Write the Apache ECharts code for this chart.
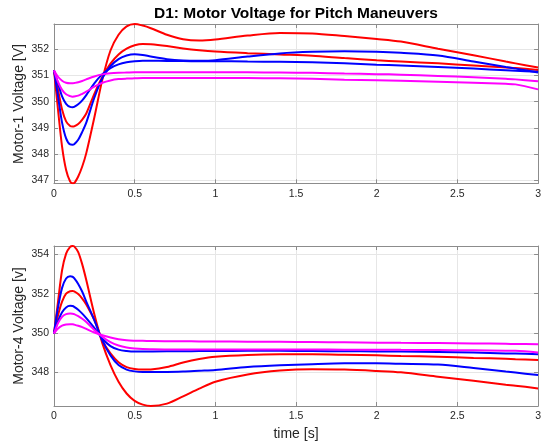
<!DOCTYPE html>
<html>
<head>
<meta charset="utf-8">
<script src="https://cdn.jsdelivr.net/npm/echarts@6/dist/echarts.min.js"></script>
<style>
html,body{margin:0;padding:0;background:#fff;}
#chart{width:544px;height:448px;}
</style>
</head>
<body>
<div id="chart"></div>
<script>
// time samples [s]
const time = [0, 0.025, 0.05, 0.075, 0.1, 0.115, 0.125, 0.15, 0.175, 0.2, 0.25, 0.3, 0.35, 0.4, 0.45, 0.5, 0.55, 0.6, 0.7, 0.8, 0.9, 1.0, 1.2, 1.4, 1.6, 1.8, 2.0, 2.15, 2.38, 2.6, 2.8, 2.86, 3.0];

// Motor-1 voltage [V]
const m1RedA = [351.19, 349.69, 348.29, 347.40, 346.96, 346.89, 346.90, 347.15, 347.53, 348.04, 349.40, 350.85, 351.95, 352.55, 352.87, 352.96, 352.90, 352.80, 352.55, 352.38, 352.33, 352.37, 352.52, 352.62, 352.60, 352.50, 352.39, 352.29, 352.02, 351.77, 351.53, 351.46, 351.30];
const m1RedB = [351.19, 350.45, 349.70, 349.25, 349.07, 349.05, 349.06, 349.15, 349.32, 349.55, 350.30, 350.95, 351.45, 351.80, 352.02, 352.15, 352.20, 352.19, 352.12, 352.03, 351.96, 351.91, 351.85, 351.80, 351.75, 351.66, 351.58, 351.53, 351.46, 351.38, 351.30, 351.28, 351.21];
const m1BlueA = [351.19, 350.20, 349.20, 348.60, 348.37, 348.36, 348.38, 348.55, 348.85, 349.20, 350.15, 350.90, 351.35, 351.62, 351.76, 351.81, 351.78, 351.72, 351.62, 351.57, 351.56, 351.58, 351.72, 351.84, 351.90, 351.92, 351.90, 351.86, 351.76, 351.53, 351.32, 351.26, 351.11];
const m1BlueB = [351.19, 350.70, 350.20, 349.92, 349.80, 349.79, 349.80, 349.90, 350.05, 350.25, 350.70, 351.05, 351.28, 351.42, 351.50, 351.54, 351.56, 351.56, 351.55, 351.55, 351.54, 351.54, 351.53, 351.52, 351.50, 351.46, 351.41, 351.38, 351.32, 351.26, 351.20, 351.18, 351.14];
const m1MagA = [351.19, 350.95, 350.80, 350.72, 350.70, 350.70, 350.71, 350.74, 350.79, 350.85, 350.96, 351.04, 351.08, 351.10, 351.11, 351.12, 351.12, 351.12, 351.12, 351.12, 351.12, 351.12, 351.12, 351.11, 351.10, 351.07, 351.05, 351.03, 350.98, 350.93, 350.87, 350.85, 350.78];
const m1MagB = [351.19, 350.75, 350.45, 350.28, 350.21, 350.19, 350.20, 350.23, 350.30, 350.38, 350.57, 350.72, 350.81, 350.86, 350.88, 350.89, 350.90, 350.90, 350.90, 350.90, 350.90, 350.90, 350.90, 350.89, 350.87, 350.84, 350.82, 350.80, 350.76, 350.72, 350.68, 350.66, 350.47];

// Motor-4 voltage [v]
const m4RedA = [349.97, 351.60, 353.20, 354.05, 354.40, 354.44, 354.42, 354.13, 353.50, 352.70, 350.95, 349.46, 348.35, 347.50, 346.90, 346.52, 346.33, 346.26, 346.38, 346.75, 347.15, 347.50, 347.87, 348.07, 348.14, 348.12, 348.05, 347.98, 347.76, 347.55, 347.35, 347.30, 347.16];
const m4RedB = [349.97, 350.90, 351.60, 352.00, 352.13, 352.14, 352.12, 351.98, 351.75, 351.45, 350.65, 349.60, 348.95, 348.50, 348.25, 348.15, 348.12, 348.13, 348.25, 348.48, 348.66, 348.78, 348.87, 348.90, 348.90, 348.88, 348.85, 348.82, 348.78, 348.72, 348.67, 348.65, 348.61];
const m4BlueA = [349.97, 351.30, 352.30, 352.78, 352.89, 352.87, 352.80, 352.50, 352.10, 351.60, 350.65, 349.60, 348.85, 348.35, 348.12, 348.03, 348.00, 348.00, 348.00, 348.02, 348.06, 348.10, 348.25, 348.34, 348.40, 348.44, 348.44, 348.42, 348.38, 348.20, 348.02, 347.97, 347.84];
const m4BlueB = [349.97, 350.60, 351.05, 351.30, 351.38, 351.37, 351.33, 351.18, 350.98, 350.75, 350.25, 349.70, 349.32, 349.14, 349.07, 349.04, 349.04, 349.05, 349.06, 349.06, 349.07, 349.07, 349.08, 349.08, 349.07, 349.06, 349.05, 349.04, 349.02, 348.99, 348.95, 348.94, 348.91];
const m4MagA = [349.97, 350.50, 350.82, 350.96, 350.99, 350.98, 350.96, 350.85, 350.72, 350.55, 350.15, 349.80, 349.52, 349.35, 349.25, 349.20, 349.17, 349.16, 349.15, 349.15, 349.15, 349.15, 349.15, 349.15, 349.15, 349.14, 349.14, 349.13, 349.12, 349.11, 349.09, 349.08, 349.00];
const m4MagB = [349.97, 350.22, 350.37, 350.43, 350.44, 350.44, 350.42, 350.36, 350.29, 350.20, 350.02, 349.88, 349.76, 349.67, 349.62, 349.60, 349.59, 349.58, 349.57, 349.57, 349.56, 349.56, 349.55, 349.54, 349.53, 349.52, 349.50, 349.49, 349.48, 349.46, 349.44, 349.43, 349.42];

const titleText = 'D1: Motor Voltage for Pitch Maneuvers';
const yLabelTop = 'Motor-1 Voltage [V]';
const yLabelBottom = 'Motor-4 Voltage [v]';
const xLabel = 'time [s]';

const FONT = '"Liberation Sans", Arial, Helvetica, sans-serif';
const BOX = '#8c8c8c';
const GRIDC = '#e6e6e6';
const TXT = '#262626';

const chart = echarts.init(document.getElementById('chart'), null, {renderer: 'canvas'});

function xAx(gi, pos, labels) {
  return {
    type: 'value', gridIndex: gi, position: pos, min: 0, max: 3, interval: 0.5,
    axisLine: {show: true, onZero: false, lineStyle: {color: BOX, width: 1}},
    axisTick: {show: true, inside: true, length: 4, lineStyle: {color: BOX}},
    axisLabel: {show: labels, color: TXT, fontSize: 10.5, fontFamily: FONT, margin: 5},
    splitLine: {show: labels, lineStyle: {color: GRIDC, width: 1}}
  };
}
function yAx(gi, pos, labels, mn, mx) {
  return {
    type: 'value', gridIndex: gi, position: pos, min: mn, max: mx,
    axisLine: {show: true, onZero: false, lineStyle: {color: BOX, width: 1}},
    axisTick: {show: true, inside: true, length: 4, lineStyle: {color: BOX}},
    axisLabel: {show: labels, color: TXT, fontSize: 10.5, fontFamily: FONT, margin: 5,
      showMinLabel: false, showMaxLabel: false,
      formatter: v => (Math.abs(v - Math.round(v)) < 1e-6 ? String(Math.round(v)) : '')},
    splitLine: {show: labels, lineStyle: {color: GRIDC, width: 1}}
  };
}

function ser(name, arr, color, xi, yi) {
  return {
    name, type: 'line', xAxisIndex: xi, yAxisIndex: yi,
    data: time.map((t, i) => [t, arr[i]]),
    showSymbol: false, smooth: 0.3, clip: true,
    lineStyle: {color, width: 2}, itemStyle: {color},
    animation: false
  };
}

const RED = '#ff0000', BLUE = '#0000ff', MAG = '#ff00ff';

const option = {
  animation: false,
  backgroundColor: '#ffffff',
  grid: [
    {left: 54, top: 24, width: 484.5, height: 159.3},
    {left: 54, top: 246, width: 484.5, height: 160}
  ],
  xAxis: [xAx(0, 'bottom', true), xAx(0, 'top', false), xAx(1, 'bottom', true), xAx(1, 'top', false)],
  yAxis: [
    yAx(0, 'left', true, 346.89, 352.96), yAx(0, 'right', false, 346.89, 352.96),
    yAx(1, 'left', true, 346.26, 354.44), yAx(1, 'right', false, 346.26, 354.44)
  ],
  series: [
    ser('m1RedA', m1RedA, RED, 0, 0),
    ser('m1RedB', m1RedB, RED, 0, 0),
    ser('m1BlueA', m1BlueA, BLUE, 0, 0),
    ser('m1BlueB', m1BlueB, BLUE, 0, 0),
    ser('m1MagA', m1MagA, MAG, 0, 0),
    ser('m1MagB', m1MagB, MAG, 0, 0),
    ser('m4RedA', m4RedA, RED, 2, 2),
    ser('m4RedB', m4RedB, RED, 2, 2),
    ser('m4BlueA', m4BlueA, BLUE, 2, 2),
    ser('m4BlueB', m4BlueB, BLUE, 2, 2),
    ser('m4MagA', m4MagA, MAG, 2, 2),
    ser('m4MagB', m4MagB, MAG, 2, 2)
  ],
  graphic: [
    {type: 'text', x: 296, y: 13.5, style: {text: titleText, font: 'bold 15.5px ' + FONT, fill: '#000', textAlign: 'center', textVerticalAlign: 'middle'}},
    {type: 'text', x: 19.5, y: 104, rotation: Math.PI / 2, style: {text: yLabelTop, font: '14px ' + FONT, fill: TXT, textAlign: 'center', textVerticalAlign: 'middle'}},
    {type: 'text', x: 19.5, y: 326, rotation: Math.PI / 2, style: {text: yLabelBottom, font: '14px ' + FONT, fill: TXT, textAlign: 'center', textVerticalAlign: 'middle'}},
    {type: 'text', x: 296, y: 434, style: {text: xLabel, font: '14px ' + FONT, fill: TXT, textAlign: 'center', textVerticalAlign: 'middle'}}
  ]
};
chart.setOption(option);
</script>
</body>
</html>
